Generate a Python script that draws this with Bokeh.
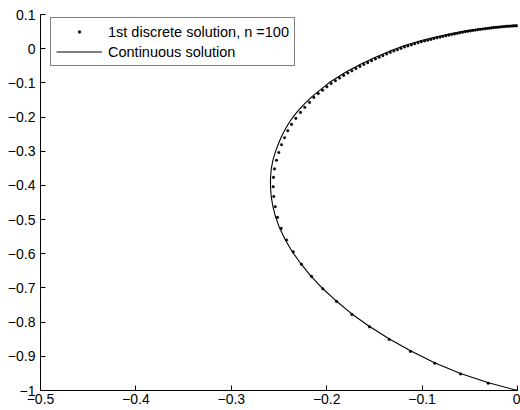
from bokeh.plotting import figure
from bokeh.models import FixedTicker, Range1d, Legend, LegendItem
from bokeh.embed import file_html
from bokeh.resources import INLINE

# Continuous solution
cont_x = [0.0, -0.0304, -0.0597, -0.0870, -0.1122, -0.1347, -0.1555, -0.1740, -0.1903, -0.2049,
          -0.2170, -0.2275, -0.2364, -0.2437, -0.2495, -0.2537, -0.2565, -0.2582, -0.2589, -0.2589,
          -0.2581, -0.2562, -0.2537, -0.2508, -0.2475, -0.2438, -0.2398, -0.2354, -0.2307, -0.2256,
          -0.2204, -0.2148, -0.2090, -0.1960, -0.1803, -0.1646, -0.1488, -0.1331, -0.1174, -0.1017,
          -0.0860, -0.0702, -0.0545, -0.0388, -0.0231, -0.0126, 0.0]
cont_y = [-1.0, -0.9772, -0.9503, -0.9187, -0.8836, -0.8485, -0.8119, -0.7753, -0.7373, -0.7001,
          -0.6641, -0.6276, -0.5925, -0.5573, -0.5237, -0.4915, -0.4608, -0.4315, -0.4037, -0.3774,
          -0.3511, -0.3248, -0.3013, -0.2794, -0.2575, -0.2370, -0.2180, -0.2004, -0.1843, -0.1682,
          -0.1536, -0.1390, -0.1258, -0.0965, -0.0688, -0.0453, -0.0249, -0.0059, 0.0102, 0.0234,
          0.0342, 0.0439, 0.0521, 0.0585, 0.0635, 0.0658, 0.0673]

# 1st discrete solution, n = 100
disc_x = [0.0, -0.0307, -0.0597, -0.0867, -0.1122, -0.1345, -0.1551, -0.1737, -0.1897, -0.2041,
          -0.2159, -0.2264, -0.2351, -0.2421, -0.2477, -0.2516, -0.2540, -0.2555, -0.2561, -0.2558,
          -0.2547, -0.2526, -0.2502, -0.2474, -0.2442, -0.2408, -0.2369, -0.2324, -0.2275, -0.2230,
          -0.2180, -0.2135, -0.2089, -0.2043, -0.1998, -0.1953, -0.1909, -0.1865, -0.1822, -0.1779,
          -0.1736, -0.1694, -0.1652, -0.1611, -0.1570, -0.1529, -0.1489, -0.1450, -0.1411, -0.1372,
          -0.1334, -0.1296, -0.1259, -0.1222, -0.1185, -0.1149, -0.1113, -0.1078, -0.1043, -0.1009,
          -0.0975, -0.0942, -0.0909, -0.0876, -0.0844, -0.0812, -0.0781, -0.0750, -0.0720, -0.0690,
          -0.0660, -0.0631, -0.0603, -0.0575, -0.0547, -0.0519, -0.0492, -0.0466, -0.0440, -0.0414,
          -0.0389, -0.0365, -0.0340, -0.0316, -0.0293, -0.0270, -0.0248, -0.0225, -0.0204, -0.0183,
          -0.0162, -0.0142, -0.0122, -0.0102, -0.0083, -0.0064, -0.0046, -0.0029, -0.0011, 0.0]
disc_y = [-1.0, -0.9786, -0.9517, -0.9201, -0.8856, -0.8508, -0.8139, -0.7774, -0.7393, -0.7022,
          -0.6662, -0.6305, -0.5945, -0.5597, -0.5257, -0.4936, -0.4623, -0.4324, -0.4037, -0.3765,
          -0.3517, -0.3265, -0.3037, -0.2809, -0.2604, -0.2399, -0.2215, -0.2039, -0.1864, -0.1717,
          -0.1571, -0.1425, -0.1314, -0.1214, -0.1115, -0.1020, -0.0939, -0.0860, -0.0781, -0.0711,
          -0.0647, -0.0582, -0.0518, -0.0462, -0.0408, -0.0354, -0.0301, -0.0252, -0.0205, -0.0155,
          -0.0108, -0.0067, -0.0029, 0.0009, 0.0050, 0.0082, 0.0111, 0.0143, 0.0173, 0.0202,
          0.0225, 0.0249, 0.0272, 0.0295, 0.0319, 0.0339, 0.0360, 0.0377, 0.0398, 0.0415,
          0.0433, 0.0449, 0.0465, 0.0480, 0.0497, 0.0509, 0.0521, 0.0532, 0.0544, 0.0556,
          0.0566, 0.0575, 0.0584, 0.0591, 0.0600, 0.0609, 0.0617, 0.0623, 0.0629, 0.0635,
          0.0641, 0.0647, 0.0652, 0.0655, 0.0658, 0.0663, 0.0666, 0.0669, 0.0671, 0.0673]

x_ticks = [-0.5, -0.4, -0.3, -0.2, -0.1, 0.0]
x_tick_labels = ["\u22120.5", "\u22120.4", "\u22120.3", "\u22120.2", "\u22120.1", "0"]
y_ticks = [-1.0, -0.9, -0.8, -0.7, -0.6, -0.5, -0.4, -0.3, -0.2, -0.1, 0.0, 0.1]
y_tick_labels = ["\u22121", "\u22120.9", "\u22120.8", "\u22120.7", "\u22120.6", "\u22120.5",
                 "\u22120.4", "\u22120.3", "\u22120.2", "\u22120.1", "0", "0.1"]

legend_labels = ["1st discrete solution, n =100", "Continuous solution"]

FONT = "Liberation Sans"

p = figure(width=520, height=410, x_range=Range1d(-0.5, 0.0), y_range=Range1d(-1.0, 0.1),
           output_backend="svg", toolbar_location=None,
           min_border_left=40, min_border_right=3, min_border_top=14, min_border_bottom=20)
p.grid.visible = False
p.outline_line_color = None
p.background_fill_color = "white"
p.border_fill_color = "white"

line_r = p.line(cont_x, cont_y, line_color="black", line_width=1.1)
dot_r = p.scatter(disc_x, disc_y, size=2.6, fill_color="black", line_color="black", line_width=0.4)

for ax, ticks, labels in ((p.xaxis[0], x_ticks, x_tick_labels), (p.yaxis[0], y_ticks, y_tick_labels)):
    ax.ticker = FixedTicker(ticks=ticks)
    ax.major_label_overrides = {t: l for t, l in zip(ticks, labels)}
    ax.major_tick_in = 5
    ax.major_tick_out = 0
    ax.minor_tick_line_color = None
    ax.axis_line_color = "black"
    ax.major_tick_line_color = "black"
    ax.major_label_text_font = FONT
    ax.major_label_text_font_size = "14px"
    ax.major_label_text_color = "black"

p.xaxis.major_label_standoff = 3
p.yaxis.major_label_standoff = 5

legend = Legend(items=[LegendItem(label=legend_labels[0], renderers=[dot_r]),
                       LegendItem(label=legend_labels[1], renderers=[line_r])],
                location=(10, 324))
legend.border_line_color = "black"
legend.border_line_width = 1.2
legend.background_fill_color = "white"
legend.background_fill_alpha = 1
legend.label_text_font = FONT
legend.label_text_font_size = "14.5px"
legend.label_text_color = "black"
legend.padding = 5
legend.spacing = 3
legend.glyph_width = 46
legend.glyph_height = 7
legend.label_height = 17
legend.label_standoff = 6
legend.margin = 0
p.add_layout(legend)

open("out.html", "w").write(file_html(p, INLINE))
